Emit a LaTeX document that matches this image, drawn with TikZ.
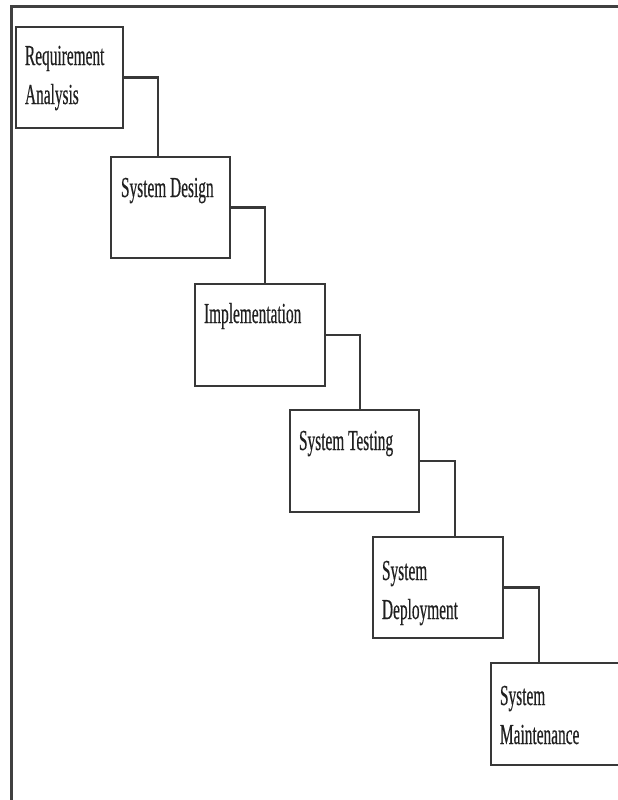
\documentclass[tikz,border=0pt]{standalone}
\usepackage{fontspec}
\setmainfont[FakeStretch=0.53,FakeBold=0.4]{Liberation Serif}
\usetikzlibrary{calc}
\definecolor{framec}{HTML}{404040}
\definecolor{linec}{HTML}{383838}
\definecolor{txtc}{HTML}{202020}
\tikzset{
  stagebox/.style={draw=linec, line width=2.6pt, fill=white, inner sep=0pt, outer sep=0pt, anchor=north west},
  stagetxt/.style={text=txtc, inner sep=0pt, outer sep=0pt, anchor=base west, align=left, font=\fontsize{29}{39}\selectfont},
  link/.style={draw=linec, line width=2.2pt}
}
\begin{document}
\begin{tikzpicture}[x=1pt, y=-1pt]
\useasboundingbox (0,0) rectangle (618,800);
\clip (0,0) rectangle (618,800);
\fill[white] (0,0) rectangle (618,800);
% frame (top and left visible)
\draw[framec, line width=3pt] (11.5,800) -- (11.5,6.5) -- (630,6.5);
% boxes
\node[stagebox, minimum width=107pt, minimum height=101pt] (b1) at (16,27) {};
\node[stagebox, minimum width=119pt, minimum height=101pt] (b2) at (111,157) {};
\node[stagebox, minimum width=130pt, minimum height=102pt] (b3) at (195,284) {};
\node[stagebox, minimum width=129pt, minimum height=102pt] (b4) at (290,410) {};
\node[stagebox, minimum width=130pt, minimum height=101pt] (b5) at (373,537) {};
\node[stagebox, minimum width=140pt, minimum height=102pt] (b6) at (491,663) {};
% labels (base anchor = baseline of the last line)
\node[stagetxt] (t1) at ($(b1.north west)+(9,77)$) {Requirement\\Analysis};
\node[stagetxt] (t2) at ($(b2.north west)+(10,40)$) {System Design};
\node[stagetxt] (t3) at ($(b3.north west)+(9,39)$) {Implementation};
\node[stagetxt] (t4) at ($(b4.north west)+(9,40)$) {System Testing};
\node[stagetxt] (t5) at ($(b5.north west)+(9,82)$) {System\\Deployment};
\node[stagetxt] (t6) at ($(b6.north west)+(9,81)$) {System\\Maintenance};
% connectors
\draw[link] (b1.east) -| ($(b2.north west)+(47,0)$);
\draw[link] (b2.east) -| ($(b3.north west)+(70,0)$);
\draw[link] (b3.east) -| ($(b4.north west)+(70,0)$);
\draw[link] (b4.east) -| ($(b5.north west)+(82,0)$);
\draw[link] (b5.east) -| ($(b6.north west)+(48,0)$);
\end{tikzpicture}
\end{document}
